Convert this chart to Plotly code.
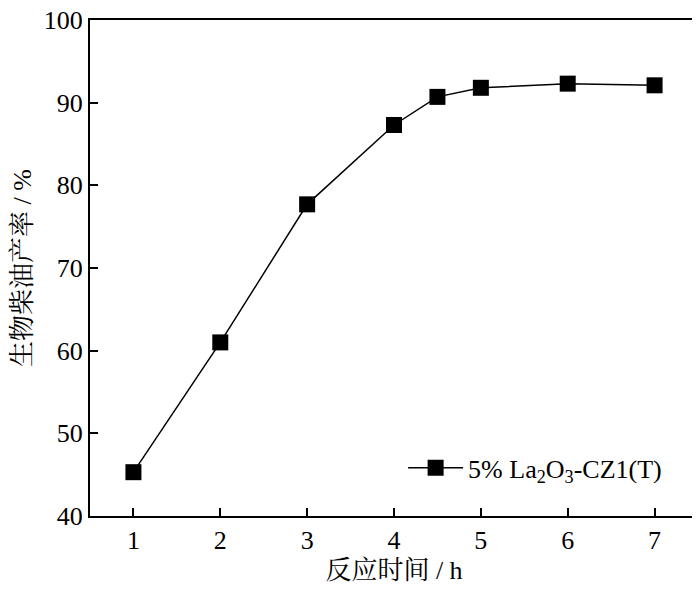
import plotly.graph_objects as go

# reaction time (h) vs biodiesel yield (%)
time_h = [1, 2, 3, 4, 4.5, 5, 6, 7]
yield_pct = [45.3, 61.0, 77.7, 87.3, 90.7, 91.8, 92.3, 92.1]
series_name = "5% La<sub>2</sub>O<sub>3</sub>-CZ1(T)"
x_ticks = [1, 2, 3, 4, 5, 6, 7]
y_ticks = [40, 50, 60, 70, 80, 90, 100]

FONT = "Liberation Serif, Times New Roman, Noto Serif CJK SC, Noto Sans CJK SC, serif"

fig = go.Figure()
fig.add_trace(go.Scatter(
    x=time_h, y=yield_pct, name=series_name,
    mode="lines+markers",
    line=dict(color="black", width=1.5),
    marker=dict(symbol="square", size=16, color="black"),
))

axis_common = dict(
    showline=True, linecolor="black", linewidth=2, mirror=True,
    ticks="inside", ticklen=8, tickwidth=1.5, tickcolor="black",
    showgrid=False, zeroline=False, ticklabeloverflow="allow",
    tickfont=dict(family=FONT, size=26, color="black"),
)

fig.update_xaxes(
    range=[0.5, 7.5], tickvals=x_ticks,
    title=dict(text="反应时间 / h", font=dict(family=FONT, size=26, color="black"), standoff=15),
    **axis_common,
)
fig.update_yaxes(
    range=[40, 100], tickvals=y_ticks,
    title=dict(text="生物柴油产率 / %", font=dict(family=FONT, size=26, color="black"), standoff=6),
    **axis_common,
)

# page body adds an 8px margin, so the figure is sized to fit the 700x593 window
fig.update_layout(
    width=692, height=577,
    margin=dict(l=82, r=2, t=12, b=69, autoexpand=False),
    paper_bgcolor="white", plot_bgcolor="white",
    font=dict(family=FONT, color="black"),
    showlegend=True,
    legend=dict(
        x=0.515, y=0.097, xanchor="left", yanchor="middle",
        itemwidth=55,
        bgcolor="rgba(0,0,0,0)", borderwidth=0,
        font=dict(family=FONT, size=26, color="black"),
    ),
)

fig.write_html("out.html")
